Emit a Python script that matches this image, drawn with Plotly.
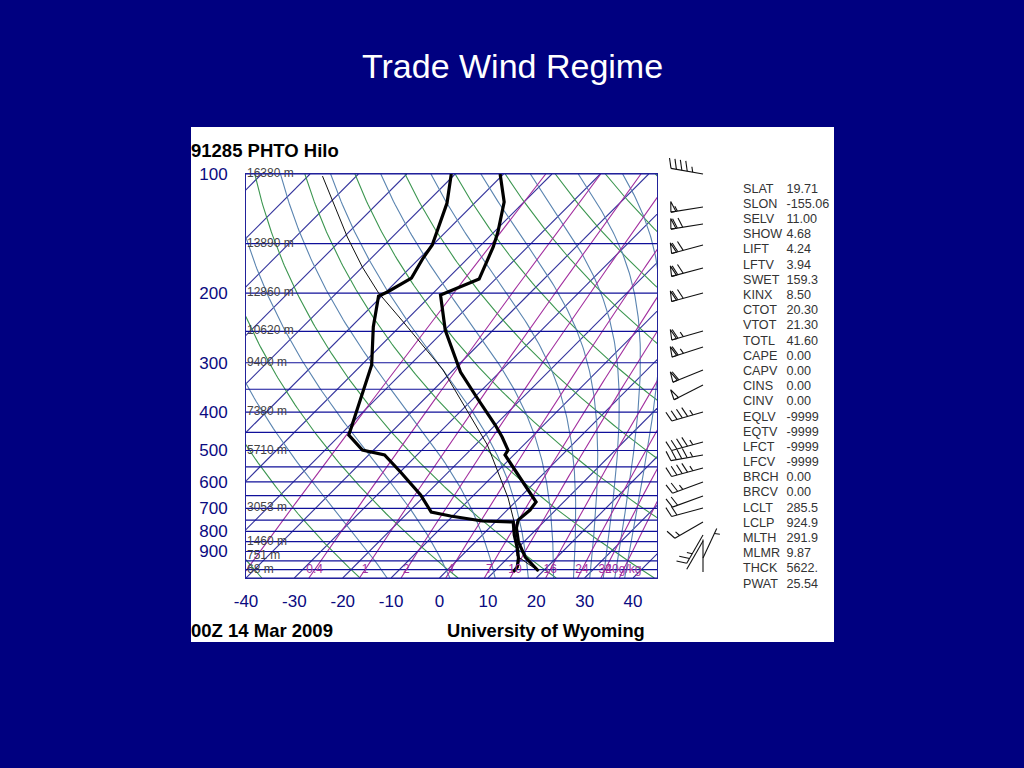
import numpy as np
import plotly.graph_objects as go

# ---- sounding data (pressure hPa, temperature degC)
temp_p = [100, 117.7, 140.2, 152.9, 184.3, 202.2, 248, 316.6, 368.3, 431, 462.3, 498.6, 513.2, 632.9, 674.7, 707, 749.2, 785, 851.7, 929.3, 1008]
temp_t = [-70.7, -64.1, -59.2, -57.1, -53.4, -58.1, -49.9, -38.1, -29.3, -20, -16.1, -12.2, -11.8, 0.6, 4.3, 4.7, 4.3, 5.6, 8.9, 13.4, 19]
dewp_p = [100, 118.4, 151.2, 163.1, 183.2, 198.7, 203.4, 243.6, 304, 351.6, 456.9, 498.6, 513.2, 566.6, 647.8, 715.4, 732, 753.6, 758, 817.8, 881.9, 934.7, 984.9, 1014]
dewp_t = [-80.8, -75.7, -70.1, -69.3, -67.6, -69.7, -70.7, -65.4, -57.9, -54.4, -48.2, -42.3, -36.7, -29.9, -21, -15.3, -10.5, -2.9, 3.7, 6.6, 9.9, 12.2, 13.8, 14]
parcel_p = [101.2, 144.3, 171.9, 199.9, 236.7, 313, 484.2, 659.2, 758, 841.9, 924, 1008]
parcel_t = [-107, -89.3, -80, -71.3, -60.2, -42.1, -17.5, -2.3, 3.9, 8, 11.5, 19]

# ---- background grid levels
isobars = list(range(100, 1051, 50))
isotherms = list(range(-130, 50, 10))
dry_theta_c = list(range(-60, 300, 20))
moist_theta_e = [263, 283, 303, 323, 343, 363, 383, 403, 423, 443]
mix_ratios = [0.1, 0.4, 1, 2, 4, 7, 10, 16, 24, 32, 40]
mix_labels_r = [0.4, 1, 2, 4, 7, 10, 16, 24, 32, 40]
mix_labels = ["0.4", "1", "2", "4", "7", "10", "16", "24", "32", "40g/kg"]

# ---- axis labels
p_ticks = [100, 200, 300, 400, 500, 600, 700, 800, 900]
t_ticks = [-40, -30, -20, -10, 0, 10, 20, 30, 40]
height_p = [100, 150, 200, 250, 300, 400, 500, 700, 850, 925, 1000]
height_m = ["16380 m", "13890 m", "12860 m", "10620 m", "9400 m", "7380 m", "5710 m", "3053 m", "1460 m", "751 m", "68 m"]

# ---- wind barbs
barb_p = [100, 121.2, 133.8, 151.2, 172.8, 199.9, 249.4, 273.8, 313, 341.5, 399.5, 475.9, 513.2, 553.6, 600.7, 651.6, 698.9, 758, 817.8, 847, 934.7, 1014]
barb_speed = [45, 55, 70, 70, 70, 70, 65, 65, 60, 50, 45, 45, 45, 45, 25, 20, 20, 15, 25, 2, 5, 2]
barb_dir = [280, 261, 261, 255, 255, 255, 254, 252, 248, 243, 254, 255, 260, 255, 250, 250, 255, 240, 210, 210, 25, 0]

# ---- station indices
index_names = ["SLAT", "SLON", "SELV", "SHOW", "LIFT", "LFTV", "SWET", "KINX", "CTOT", "VTOT", "TOTL", "CAPE", "CAPV", "CINS", "CINV", "EQLV", "EQTV", "LFCT", "LFCV", "BRCH", "BRCV", "LCLT", "LCLP", "MLTH", "MLMR", "THCK", "PWAT"]
index_values = ["19.71", "-155.06", "11.00", "4.68", "4.24", "3.94", "159.3", "8.50", "20.30", "21.30", "41.60", "0.00", "0.00", "0.00", "0.00", "-9999", "-9999", "-9999", "-9999", "0.00", "0.00", "285.5", "924.9", "291.9", "9.87", "5622.", "25.54"]

NAVY = "#000080"
FONT = "Liberation Sans"
W, H = 1024, 768
L, R, T, B = 246, 657, 174, 578
P_BOT = 1050.0
SKEW = 81.5
X_RANGE = [-40, 44.95]


def skew(t, p):
    return np.asarray(t, float) + SKEW * np.log10(P_BOT / np.asarray(p, float))


def py(p):
    return T + (B - T) * np.log10(p / 100.0) / np.log10(P_BOT / 100.0)


def joined(segments):
    xs, ys = [], []
    for x, y in segments:
        xs += list(x) + [None]
        ys += list(y) + [None]
    return xs, ys


P = np.geomspace(100, P_BOT, 120)


def td_from_r(r, p):
    e = r * p / (622.0 + r)
    g = np.log(e / 6.112)
    return 243.5 * g / (17.67 - g)


def moist_t(thetae, p):
    lo = np.full_like(p, 120.0)
    hi = np.full_like(p, 340.0)
    for _ in range(50):
        t = 0.5 * (lo + hi)
        es = 6.112 * np.exp(17.67 * (t - 273.15) / (t - 29.65))
        r = np.clip(0.622 * es / np.maximum(p - es, 1.0), 0, 0.6)
        te = t * (1000 / p) ** (0.2854 * (1 - 0.28 * r)) * np.exp((3376 / t - 2.54) * r * (1 + 0.81 * r))
        hi = np.where(te > thetae, t, hi)
        lo = np.where(te > thetae, lo, t)
    return t - 273.15


fig = go.Figure()


def grid(segments, color, name, width=1):
    x, y = joined(segments)
    fig.add_trace(go.Scatter(x=x, y=y, mode="lines", name=name, hoverinfo="skip",
                             line=dict(color=color, width=width)))


grid([(skew(t * np.ones(2), [100, P_BOT]), [100, P_BOT]) for t in isotherms], "#33339c", "isotherms", 1.1)
grid([(skew((th + 273.15) * (P / 1000) ** 0.286 - 273.15, P), P) for th in dry_theta_c], "#3c9650", "dry adiabats", 1.1)
grid([(skew(moist_t(te, P), P), P) for te in moist_theta_e], "#5a84b0", "moist adiabats", 1.1)
grid([(skew(td_from_r(r, P), P), P) for r in mix_ratios], "#a3309f", "mixing ratio", 1.1)
grid([(X_RANGE, [p, p]) for p in isobars], "#10109a", "isobars", 1.2)

fig.add_trace(go.Scatter(x=skew(parcel_t, parcel_p), y=parcel_p, mode="lines", name="parcel",
                         line=dict(color="#111111", width=1)))
fig.add_trace(go.Scatter(x=skew(temp_t, temp_p), y=temp_p, mode="lines", name="temperature",
                         line=dict(color="#000000", width=3.2)))
fig.add_trace(go.Scatter(x=skew(dewp_t, dewp_p), y=dewp_p, mode="lines", name="dew point",
                         line=dict(color="#000000", width=3.2)))

fig.add_trace(go.Scatter(x=[X_RANGE[0] + 0.2] * len(height_p), y=height_p, text=height_m, mode="text",
                         textposition="middle right", cliponaxis=False, name="heights",
                         textfont=dict(family=FONT, size=12, color="#444444")))
lab_x = [float(skew(td_from_r(r, 1000.0), 1000.0)) for r in mix_labels_r]
fig.add_trace(go.Scatter(x=lab_x, y=[1000] * len(lab_x), text=mix_labels, mode="text",
                         textposition="middle center", cliponaxis=False, name="mix labels",
                         textfont=dict(family=FONT, size=12, color="#a3309f")))

# wind barbs on a pixel overlay
BX, SHAFT, STEP = 703.0, 32.5, 5.5
FULL, HALF = 10.5, 5.5
LEAN = np.radians(18)
sx, sy = [], []
for p, spd, d in zip(barb_p, barb_speed, barb_dir):
    a = np.radians(d)
    ux, uy = np.sin(a), -np.cos(a)
    nx, ny = -uy, ux
    y0 = float(py(p))
    tipx, tipy = BX + ux * SHAFT, y0 + uy * SHAFT
    sx += [BX, tipx, None]
    sy += [y0, tipy, None]
    rest = int(round(spd / 5.0)) * 5
    s = 0.0
    fx, fy = nx * np.cos(LEAN) + ux * np.sin(LEAN), ny * np.cos(LEAN) + uy * np.sin(LEAN)
    while rest >= 50:
        b1x, b1y = tipx - ux * s, tipy - uy * s
        b2x, b2y = b1x - ux * 5.0, b1y - uy * 5.0
        ax, ay = b1x + nx * FULL - ux * 1.5, b1y + ny * FULL - uy * 1.5
        sx += [b1x, ax, b2x, b1x, None]
        sy += [b1y, ay, b2y, b1y, None]
        s += STEP + 1
        rest -= 50
    while rest >= 10:
        b1x, b1y = tipx - ux * s, tipy - uy * s
        sx += [b1x, b1x + fx * FULL, None]
        sy += [b1y, b1y + fy * FULL, None]
        s += STEP
        rest -= 10
    if rest >= 5:
        if s == 0:
            s = STEP
        b1x, b1y = tipx - ux * s, tipy - uy * s
        sx += [b1x, b1x + fx * HALF, None]
        sy += [b1y, b1y + fy * HALF, None]
fig.add_trace(go.Scatter(x=sx, y=sy, xaxis="x2", yaxis="y2", mode="lines", name="wind barbs",
                         line=dict(color="#111111", width=1.1)))

rows_y = np.linspace(189.5, 584.5, len(index_names))
fig.add_trace(go.Scatter(x=[743] * len(index_names), y=rows_y, text=index_names, xaxis="x2", yaxis="y2",
                         mode="text", textposition="middle right", name="index names",
                         textfont=dict(family=FONT, size=12.6, color="#333333")))
fig.add_trace(go.Scatter(x=[786.5] * len(index_values), y=rows_y, text=index_values, xaxis="x2", yaxis="y2",
                         mode="text", textposition="middle right", name="index values",
                         textfont=dict(family=FONT, size=12.6, color="#333333")))

fig.update_layout(
    width=W, height=H, margin=dict(l=0, r=0, t=0, b=0, autoexpand=False), showlegend=False,
    paper_bgcolor=NAVY, plot_bgcolor="rgba(0,0,0,0)",
    xaxis=dict(domain=[L / W, R / W], range=X_RANGE, tickmode="array", tickvals=t_ticks,
               ticktext=[str(t) for t in t_ticks], showgrid=False, zeroline=False, automargin=False,
               showline=True, mirror=True, linecolor="#22229a", linewidth=1,
               ticks="outside", ticklen=8, tickcolor="rgba(255,255,255,0)",
               tickfont=dict(family=FONT, size=17, color="#0a0a80")),
    yaxis=dict(domain=[1 - B / H, 1 - T / H], type="log", range=[np.log10(P_BOT), 2], tickmode="array",
               tickvals=p_ticks, ticktext=[str(p) for p in p_ticks], showgrid=False, zeroline=False, automargin=False,
               showline=True, mirror=True, linecolor="#22229a", linewidth=1,
               ticks="outside", ticklen=14, tickcolor="rgba(255,255,255,0)",
               tickfont=dict(family=FONT, size=17, color="#0a0a80")),
    xaxis2=dict(domain=[0, 1], range=[0, W], visible=False, anchor="y2", automargin=False),
    yaxis2=dict(domain=[0, 1], range=[H, 0], visible=False, anchor="x2", automargin=False),
    shapes=[dict(type="rect", xref="paper", yref="paper", x0=191 / W, x1=834 / W, y0=1 - 642 / H, y1=1 - 127 / H,
                 layer="below", fillcolor="white", line=dict(width=0))],
    annotations=[
        dict(text="Trade Wind Regime", x=512, y=66, xref="x2", yref="y2", showarrow=False,
             font=dict(family=FONT, size=34, color="white")),
        dict(text="<b>91285 PHTO Hilo</b>", x=189, y=150, xref="x2", yref="y2", xanchor="left", showarrow=False,
             font=dict(family=FONT, size=18.5, color="black")),
        dict(text="<b>00Z 14 Mar 2009</b>", x=189, y=630, xref="x2", yref="y2", xanchor="left", showarrow=False,
             font=dict(family=FONT, size=18.5, color="black")),
        dict(text="<b>University of Wyoming</b>", x=445, y=630, xref="x2", yref="y2", xanchor="left", showarrow=False,
             font=dict(family=FONT, size=18.3, color="black")),
    ],
)

fig.write_html("out.html", config=dict(displayModeBar=False),
               post_script="document.body.style.margin='0';document.body.style.overflow='hidden';document.body.style.background='#000080';")
